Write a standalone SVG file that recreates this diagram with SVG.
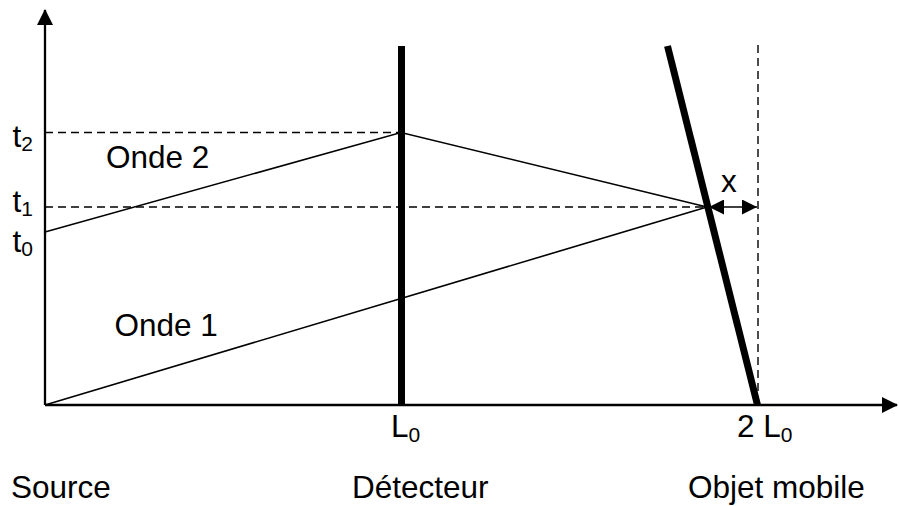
<svg xmlns="http://www.w3.org/2000/svg" width="899" height="506" viewBox="0 0 899 506">
<style>
text{font-family:"Liberation Sans",Arial,sans-serif;font-size:31.5px;fill:#000}
.sub{font-size:21px}
.axis{stroke:#000;stroke-width:2.3;fill:none}
.thin{stroke:#000;stroke-width:1.6;fill:none}
.dash{stroke:#000;stroke-width:1.4;stroke-dasharray:8 5;fill:none}
.thick{stroke:#000;stroke-width:7;fill:none}
</style>
<defs>
<marker id="ah" markerWidth="16" markerHeight="16" viewBox="0 0 16 16" refX="15" refY="8" orient="auto" markerUnits="userSpaceOnUse">
<path d="M0,0 L16,8 L0,16 Z" fill="#000"/>
</marker>
<marker id="sh" markerWidth="15" markerHeight="15" viewBox="0 0 15 15" refX="15" refY="7.5" orient="auto-start-reverse" markerUnits="userSpaceOnUse">
<path d="M0,0 L15,7.5 L0,15 Z" fill="#000"/>
</marker>
</defs>
<g id="axes">
<line class="axis" x1="45" y1="405" x2="45" y2="10" marker-end="url(#ah)"/>
<line class="axis" x1="45" y1="405" x2="897" y2="405" marker-end="url(#ah)"/>
</g>
<g id="guides">
<line class="dash" x1="45" y1="132.5" x2="401" y2="132.5"/>
<line class="dash" x1="45" y1="207" x2="707" y2="207"/>
<line class="dash" x1="758" y1="45" x2="758" y2="405"/>
</g>
<g id="detecteur">
<line class="thick" x1="401.5" y1="46" x2="401.5" y2="405"/>
</g>
<g id="objet">
<line class="thick" x1="667.5" y1="46" x2="757.5" y2="405"/>
</g>
<g id="connectors">
<polyline class="thin" points="45,232 401,132.5 707,207"/>
<line class="thin" x1="45" y1="405" x2="707" y2="207"/>
<line class="thin" x1="709" y1="207" x2="757" y2="207" marker-start="url(#sh)" marker-end="url(#sh)"/>
</g>
<g id="labels">
<text x="12.5" y="147">t<tspan class="sub" dy="4">2</tspan></text>
<text x="12.5" y="212">t<tspan class="sub" dy="4">1</tspan></text>
<text x="12.5" y="252">t<tspan class="sub" dy="4">0</tspan></text>
<text x="106" y="168">Onde 2</text>
<text x="114.5" y="336">Onde 1</text>
<text x="721" y="192">x</text>
<text x="391" y="437">L<tspan class="sub" dy="5">0</tspan></text>
<text x="737" y="437">2 L<tspan class="sub" dy="5">0</tspan></text>
<text x="11" y="498">Source</text>
<text x="352" y="498">Détecteur</text>
<text x="688" y="498">Objet mobile</text>
</g>
</svg>
